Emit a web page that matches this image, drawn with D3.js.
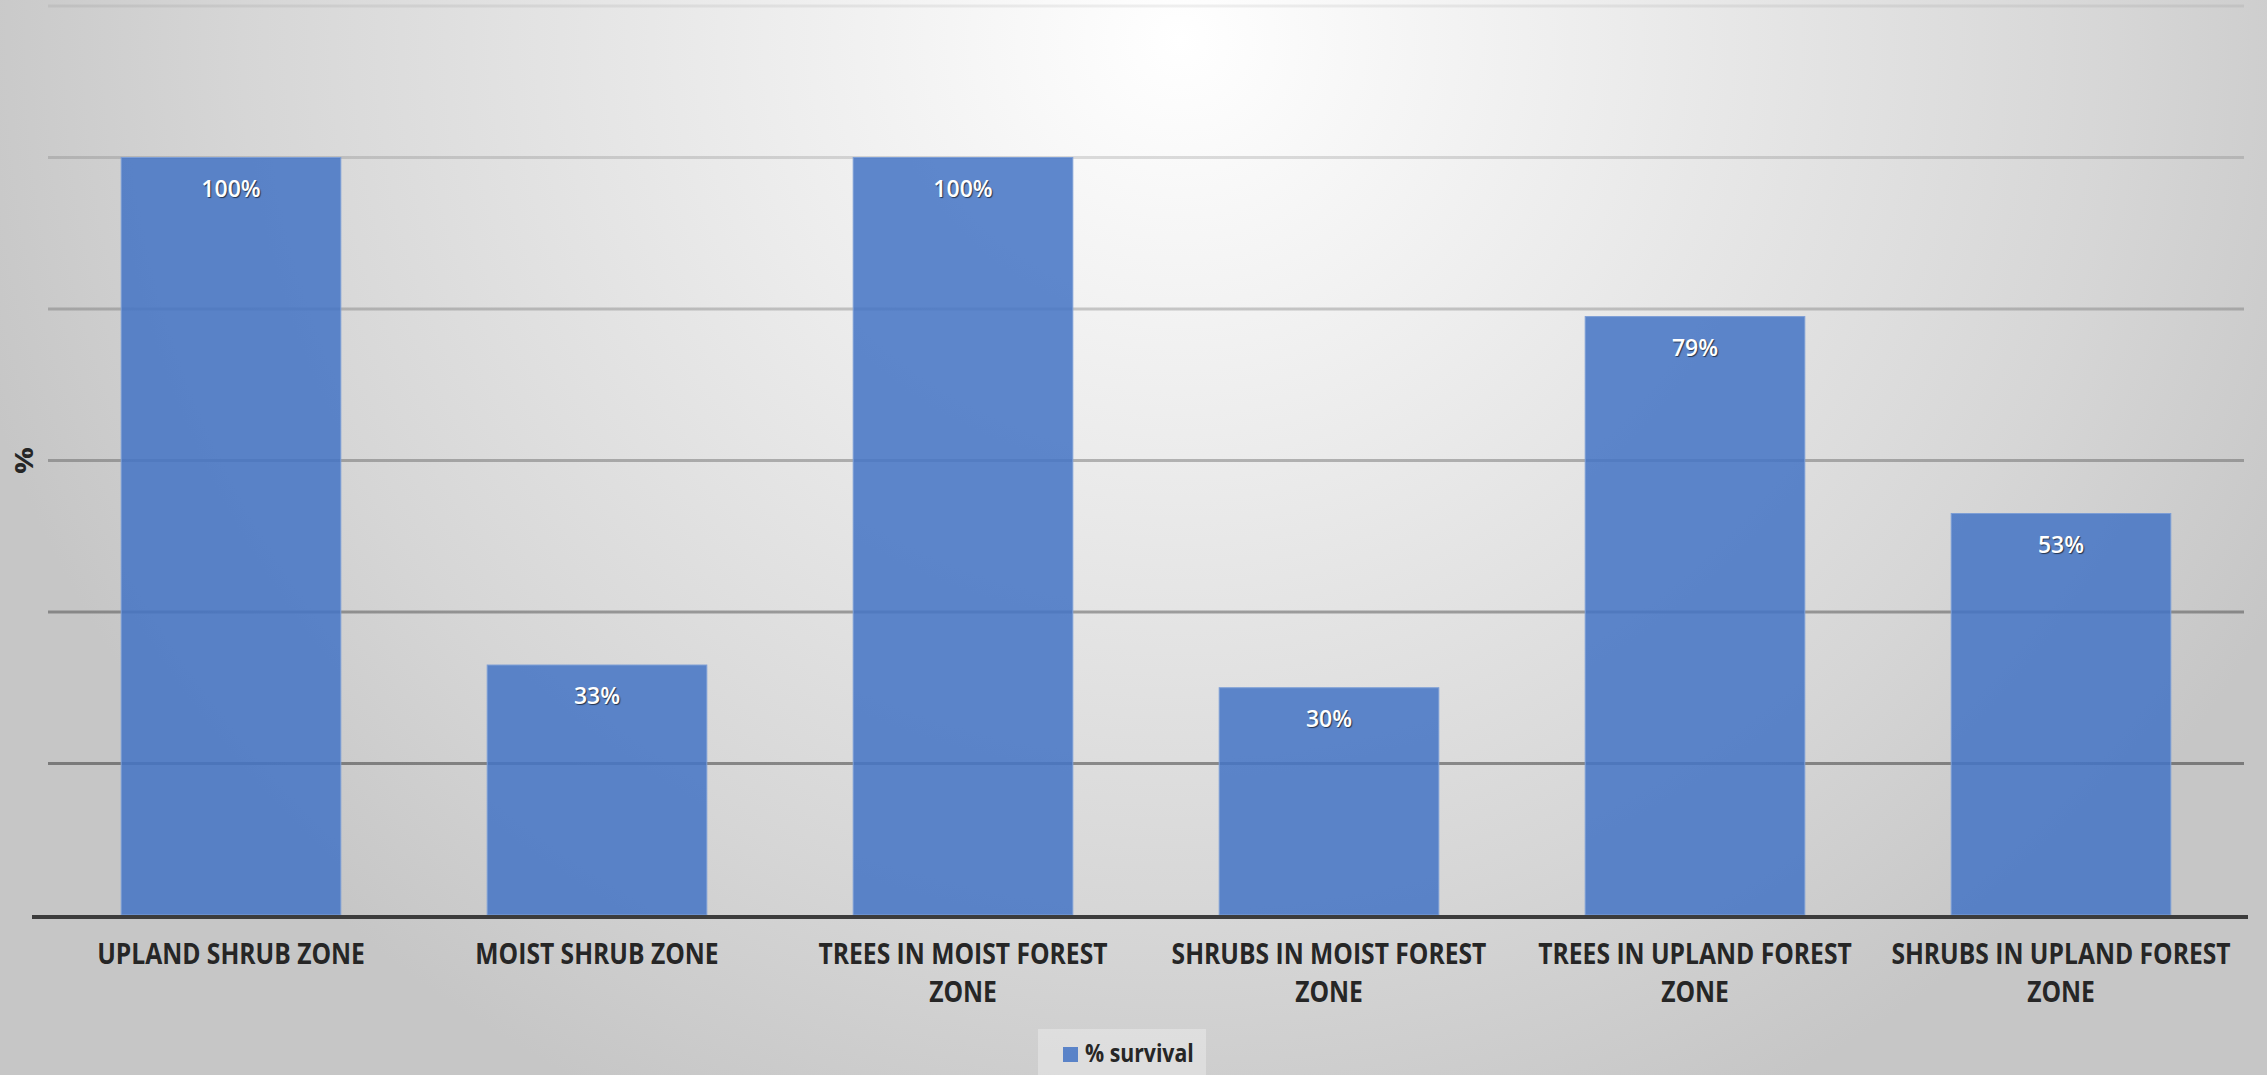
<!DOCTYPE html>
<html>
<head>
<meta charset="utf-8">
<script src="https://cdn.jsdelivr.net/npm/d3@7"></script>
<style>
  html, body { margin: 0; padding: 0; }
  #chart { width: 2267px; height: 1075px; }
  .cat { font-family: "Open Sans", "Noto Sans", "DejaVu Sans", sans-serif; font-weight: bold; fill: #262626; }
  .val { font-family: "Open Sans", "Noto Sans", sans-serif; font-weight: 600; fill: #fff; text-shadow: 1px 1px 1px rgba(0,0,0,0.6); }
</style>
</head>
<body>
<div id="chart"></div>
<script>
const categories = [
  ["UPLAND SHRUB ZONE"],
  ["MOIST SHRUB ZONE"],
  ["TREES IN MOIST FOREST", "ZONE"],
  ["SHRUBS IN MOIST FOREST", "ZONE"],
  ["TREES IN UPLAND FOREST", "ZONE"],
  ["SHRUBS IN UPLAND FOREST", "ZONE"]
];
const survival = [100, 33, 100, 30, 79, 53];
const yTicks = [20, 40, 60, 80, 100, 120];
const seriesName = "% survival";
const yTitle = "%";

const W = 2267, H = 1075;
const margin = {t: 6, r: 23, b: 160, l: 48};
const squeeze = 0.85; // labels use a condensed look

const svg = d3.select("#chart").append("svg")
  .attr("width", W)
  .attr("height", H);

// background: soft radial grey, brightest near top middle
const defs = svg.append("defs");
const grad = defs.append("radialGradient")
  .attr("id", "bg")
  .attr("gradientUnits", "userSpaceOnUse")
  .attr("cx", 1180).attr("cy", 40).attr("r", 1250)
  .attr("gradientTransform", "translate(1180,40) scale(1,0.95) translate(-1180,-40)");
grad.append("stop").attr("offset", "0").attr("stop-color", "#ffffff");
grad.append("stop").attr("offset", "0.35").attr("stop-color", "#ececec");
grad.append("stop").attr("offset", "0.75").attr("stop-color", "#d6d6d6");
grad.append("stop").attr("offset", "1").attr("stop-color", "#c6c6c6");

svg.append("rect")
  .attr("width", W).attr("height", H)
  .attr("fill", "url(#bg)");

const x = d3.scaleBand()
  .domain(d3.range(categories.length))
  .range([margin.l, W - margin.r])
  .paddingInner(0.4)
  .paddingOuter(0.2);

const y = d3.scaleLinear()
  .domain([0, 120])
  .range([H - margin.b, margin.t]);

// gridlines, a bit darker toward the bottom
const gridShade = d3.scaleLinear().domain([20, 120]).range([0.38, 0.06]);
svg.append("g")
  .selectAll("line")
  .data(yTicks)
  .join("line")
  .attr("x1", margin.l)
  .attr("x2", W - margin.r)
  .attr("y1", d => y(d))
  .attr("y2", d => y(d))
  .attr("stroke", "#000")
  .attr("stroke-opacity", d => gridShade(d))
  .attr("stroke-width", 3);

// bars
svg.append("g")
  .selectAll("rect")
  .data(survival)
  .join("rect")
  .attr("x", (d, i) => x(i))
  .attr("y", d => y(d))
  .attr("width", x.bandwidth())
  .attr("height", d => y(0) - y(d))
  .attr("fill", "#4574c5")
  .attr("fill-opacity", 0.86)
  .attr("stroke", "#7d9ed6")
  .attr("stroke-width", 1);

// value labels inside bar tops
svg.append("g")
  .selectAll("text")
  .data(survival)
  .join("text")
  .attr("class", "val")
  .attr("x", (d, i) => x(i) + x.bandwidth() / 2)
  .attr("y", d => y(d) + 33)
  .attr("text-anchor", "middle")
  .attr("dominant-baseline", "middle")
  .attr("font-size", 23)
  .text(d => d + "%");

// baseline
svg.append("line")
  .attr("x1", margin.l - 16)
  .attr("x2", W - margin.r + 4)
  .attr("y1", y(0) + 2)
  .attr("y2", y(0) + 2)
  .attr("stroke", "#3c3c3c")
  .attr("stroke-width", 4);

// category labels
const cats = svg.append("g")
  .selectAll("g")
  .data(categories)
  .join("g")
  .attr("transform", (d, i) => `translate(${x(i) + x.bandwidth() / 2},${y(0) + 41}) scale(${squeeze},1)`)
  .append("text")
  .attr("class", "cat")
  .attr("text-anchor", "middle")
  .attr("dominant-baseline", "middle")
  .attr("font-size", 29);

cats.selectAll("tspan")
  .data(d => d)
  .join("tspan")
  .attr("x", 0)
  .attr("dy", (d, i) => i === 0 ? 0 : 38)
  .text(d => d);

// y axis title
svg.append("text")
  .attr("class", "cat")
  .attr("transform", `translate(26,${y(60)}) rotate(-90) scale(1,${squeeze})`)
  .attr("text-anchor", "middle")
  .attr("dominant-baseline", "middle")
  .attr("font-size", 30)
  .text(yTitle);

// legend
const legend = svg.append("g").attr("transform", "translate(1038,1029)");
legend.append("rect")
  .attr("width", 168).attr("height", 50)
  .attr("fill", "#ffffff").attr("fill-opacity", 0.3);
legend.append("rect")
  .attr("x", 25).attr("y", 18)
  .attr("width", 15).attr("height", 15)
  .attr("fill", "#4574c5").attr("fill-opacity", 0.86);
legend.append("text")
  .attr("class", "cat")
  .attr("transform", `translate(47,26) scale(${squeeze},1)`)
  .attr("dominant-baseline", "middle")
  .attr("font-size", 25)
  .text(seriesName);
</script>
</body>
</html>
